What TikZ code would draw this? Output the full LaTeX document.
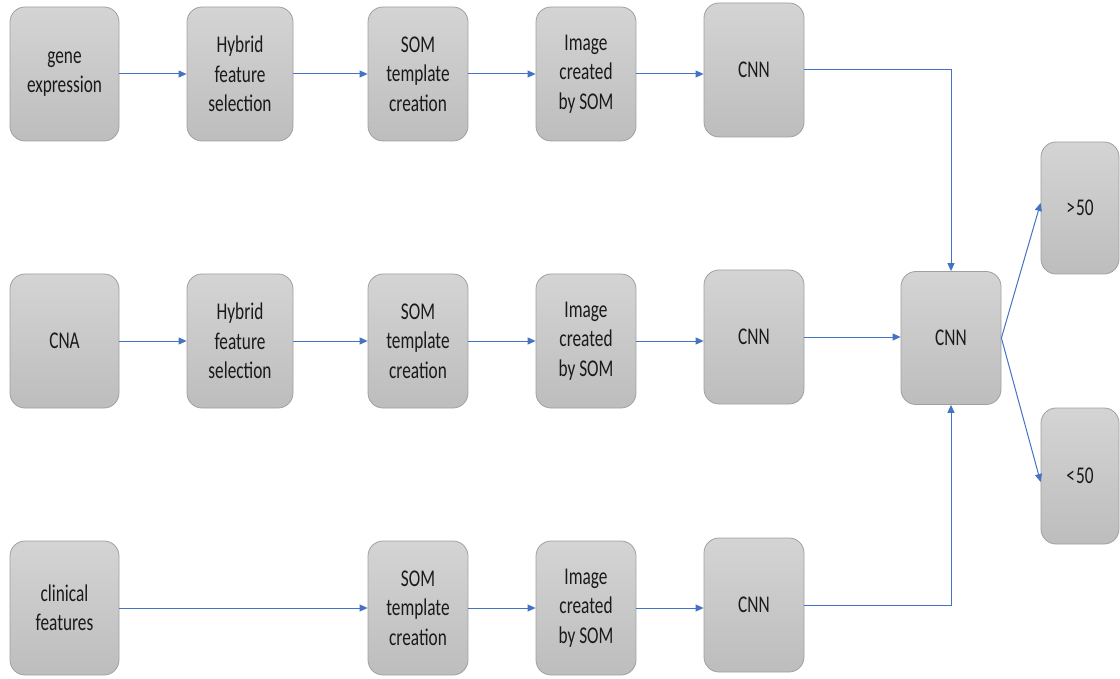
\documentclass[tikz,border=0pt]{standalone}
\usepackage{fontspec}
\setmainfont{Carlito}[FakeStretch=0.72]
\usetikzlibrary{arrows.meta}

\definecolor{boxtop}{HTML}{D4D4D4}
\definecolor{boxbot}{HTML}{BDBDBD}
\definecolor{boxline}{HTML}{A0A0A0}
\definecolor{flowblue}{HTML}{4472C4}
\definecolor{txt}{HTML}{1A1A1A}

\tikzset{
  block/.style={rounded corners=15pt, draw=boxline, line width=0.8pt,
    top color=boxtop, bottom color=boxbot, text=txt, align=center,
    font=\fontsize{24}{29.5}\selectfont, inner sep=0pt,
    minimum width=100pt, minimum height=134pt},
  flow/.style={draw=flowblue, line width=1pt, -{Triangle[width=7pt,length=8pt]}}
}

\begin{document}
\begin{tikzpicture}[x=1pt, y=-1pt]
    % --- Page frame ---
    \useasboundingbox (0,0) rectangle (1120,679);

    % --- Row positions ---
    \def\rowA{74}   % gene expression row
    \def\rowB{341}  % CNA row
    \def\rowC{608}  % clinical features row

    % --- Row 1: gene expression ---
    \node[block, minimum width=109pt] (gene) at (64.5,\rowA) {gene\\expression};
    \node[block, minimum width=106pt] (hyb1) at (240,\rowA) {Hybrid\\feature\\selection};
    \node[block] (som1) at (418,\rowA) {SOM\\template\\creation};
    \node[block] (img1) at (586,\rowA) {Image\\created\\by SOM};
    \node[block] (cnn1) at (754,70) {CNN};

    % --- Row 2: CNA ---
    \node[block, minimum width=109pt] (cna) at (64.5,\rowB) {CNA};
    \node[block, minimum width=106pt] (hyb2) at (240,\rowB) {Hybrid\\feature\\selection};
    \node[block] (som2) at (418,\rowB) {SOM\\template\\creation};
    \node[block] (img2) at (586,\rowB) {Image\\created\\by SOM};
    \node[block] (cnn2) at (754,337) {CNN};

    % --- Row 3: clinical features ---
    \node[block, minimum width=109pt] (clin) at (64.5,\rowC) {clinical\\features};
    \node[block] (som3) at (418,\rowC) {SOM\\template\\creation};
    \node[block] (img3) at (586,\rowC) {Image\\created\\by SOM};
    \node[block] (cnn3) at (754,605) {CNN};

    % --- Fusion and outcome ---
    \node[block, minimum height=133pt] (fuse) at (951,338) {CNN};
    \node[block, minimum width=78pt, minimum height=132pt] (high) at (1080,208) {>\kern1pt50};
    \node[block, minimum width=78pt, minimum height=136pt] (low) at (1080,476) {<\kern1pt50};

    % --- Connectors ---
    \draw[flow] (gene) -- (hyb1);
    \draw[flow] (hyb1) -- (som1);
    \draw[flow] (som1) -- (img1);
    \draw[flow] (img1) -- (img1 -| cnn1.west);

    \draw[flow] (cna) -- (hyb2);
    \draw[flow] (hyb2) -- (som2);
    \draw[flow] (som2) -- (img2);
    \draw[flow] (img2) -- (img2 -| cnn2.west);

    \draw[flow] (clin) -- (som3);
    \draw[flow] (som3) -- (img3);
    \draw[flow] (img3) -- (img3 -| cnn3.west);

    % CNN outputs merge into the last network
    \draw[flow] (cnn1.east) -| (fuse.north);
    \draw[flow] (cnn2.east) -- (cnn2.east -| fuse.west);
    \draw[flow] (cnn3.east) -| (fuse.south);

    \draw[flow] (fuse.east) -- ([yshift=5pt]high.west);
    \draw[flow] (fuse.east) -- ([yshift=-6pt]low.west);

\end{tikzpicture}
\end{document}
